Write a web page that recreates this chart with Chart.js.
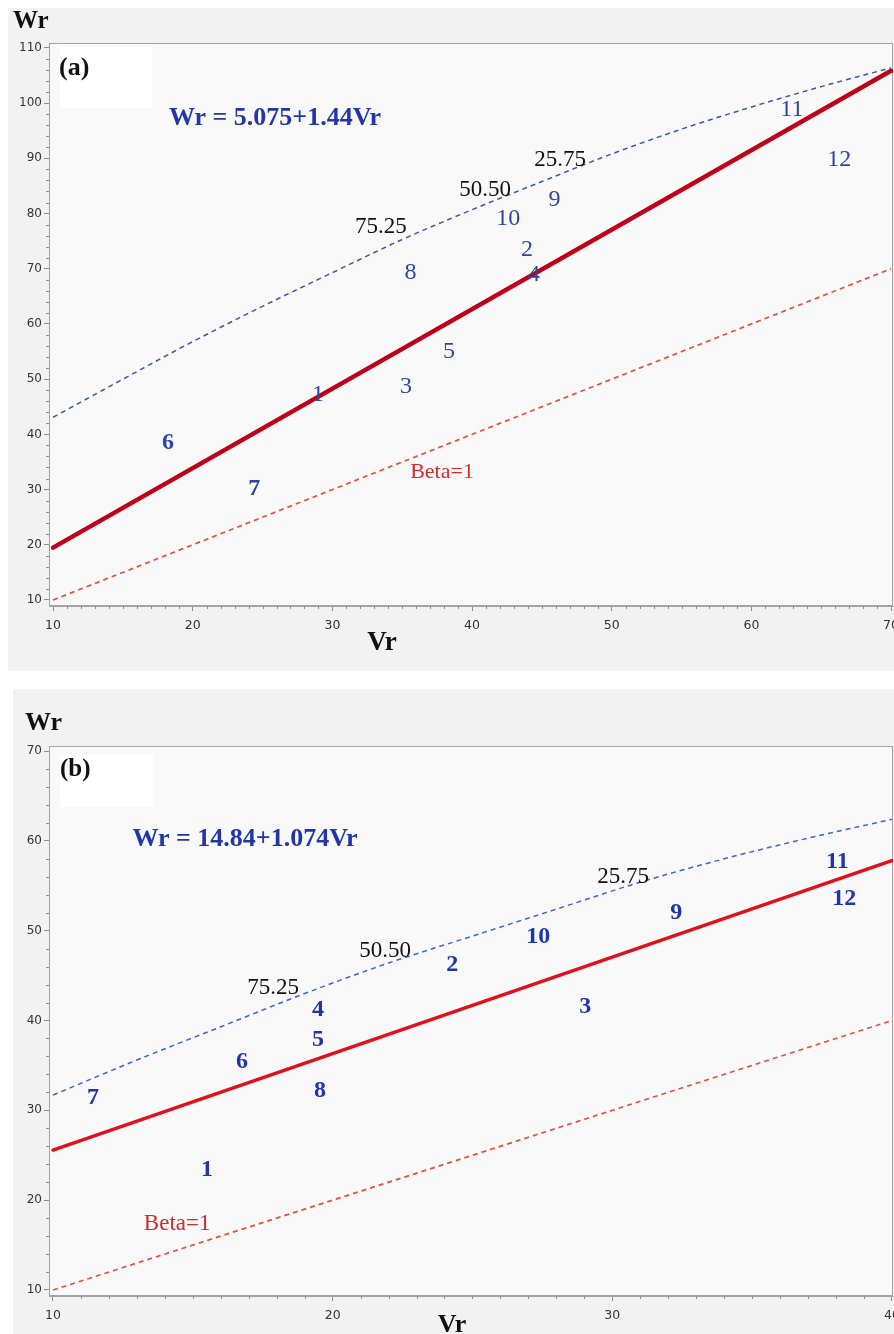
<!DOCTYPE html>
<html>
<head>
<meta charset="utf-8">
<script src="https://cdn.jsdelivr.net/npm/chart.js@4.4.0/dist/chart.umd.min.js"></script>
<style>
  html, body { margin: 0; padding: 0; background: #ffffff; overflow: hidden; width: 894px; height: 1334px; }
  .panel-bg { position: absolute; background: #f2f2f2; }
  canvas { position: absolute; left: 0; }
</style>
</head>
<body>
<div class="panel-bg" style="left:8px; top:8px; width:900px; height:663px;"></div>
<div class="panel-bg" style="left:13px; top:689px; width:900px; height:660px;"></div>
<canvas id="chartA" width="910" height="672" style="top:0px;"></canvas>
<canvas id="chartB" width="910" height="645" style="top:689px;"></canvas>
<script>
// ---------- Panel (a) ----------
const aIds  = ['1', '2', '3', '4', '5', '6', '7', '8', '9', '10', '11', '12'];
const aVr   = [28.97, 43.93, 35.27, 44.43, 38.35, 18.23, 24.4, 35.6, 45.9, 42.6, 62.9, 66.3];
const aWr   = [47.1, 73.4, 48.6, 68.9, 54.9, 38.4, 30.1, 69.2, 82.5, 79.0, 98.8, 89.7];
const aFitIntercept = 5.075;
const aFitSlope = 1.44;
const aFitRange = [10, 70];
const aBetaVr = [10, 70];
const aBetaWr = [10, 70];
const aCurveVr = [10, 15, 20, 25, 30, 35, 40, 45, 50, 55, 60, 65, 70];
const aCurveWr = [43.1, 50.0, 56.8, 63.2, 69.3, 75.3, 80.7, 85.8, 90.8, 95.3, 99.3, 103.0, 106.4];
const aXTicks = [10, 20, 30, 40, 50, 60, 70];
const aYTicks = [10, 20, 30, 40, 50, 60, 70, 80, 90, 100, 110];

// ---------- Panel (b) ----------
const bIds  = ['1', '2', '3', '4', '5', '6', '7', '8', '9', '10', '11', '12'];
const bVr   = [15.51, 24.28, 29.03, 19.48, 19.48, 16.76, 11.43, 19.55, 32.29, 27.35, 38.05, 38.3];
const bWr   = [23.4, 46.2, 41.5, 41.2, 37.8, 35.4, 31.4, 32.2, 52.0, 49.3, 57.7, 53.5];
const bFitIntercept = 14.84;
const bFitSlope = 1.074;
const bFitRange = [10, 40];
const bBetaVr = [10, 40];
const bBetaWr = [10, 40];
const bCurveVr = [10, 13, 16, 19, 22, 25, 28, 31, 34, 37, 40];
const bCurveWr = [31.7, 35.6, 39.3, 43.0, 46.4, 49.4, 52.4, 55.4, 58.0, 60.3, 62.4];
const bXTicks = [10, 20, 30, 40];
const bYTicks = [10, 20, 30, 40, 50, 60, 70];

const SERIF = '"Liberation Serif", "Times New Roman", serif';
const SANS = '"DejaVu Sans", sans-serif';

function pairs(xs, ys) { return xs.map((x, i) => ({ x: x, y: ys[i] })); }

// Plot background, frame, minor tick marks, point numbers and text notes
const panelDecor = {
  id: 'panelDecor',
  beforeDraw(chart, args, o) {
    const { ctx, chartArea: a } = chart;
    ctx.save();
    ctx.fillStyle = o.plotBg;
    ctx.fillRect(a.left, a.top, a.right - a.left, a.bottom - a.top);
    ctx.fillStyle = '#ffffff';
    ctx.fillRect(a.left + o.tagBox.dx, a.top + o.tagBox.dy, o.tagBox.w, o.tagBox.h);
    ctx.restore();
  },
  beforeDatasetsDraw(chart, args, o) {
    const { ctx, chartArea: a, scales } = chart;
    ctx.save();
    ctx.strokeStyle = '#a3a3a3';
    ctx.lineWidth = 1;
    ctx.strokeRect(Math.round(a.left) + 0.5, Math.round(a.top) + 0.5,
                   Math.round(a.right - a.left) - 1, Math.round(a.bottom - a.top) - 1);
    ctx.strokeStyle = '#8c8c8c';
    ctx.beginPath();
    const xs = scales.x, ys = scales.y;
    for (let v = Math.ceil(xs.min); v <= xs.max + 1e-9; v += o.xMinor) {
      if (Math.abs(v % 10) < 1e-9) continue;
      const px = Math.round(xs.getPixelForValue(v)) + 0.5;
      ctx.moveTo(px, a.bottom); ctx.lineTo(px, a.bottom + 3);
    }
    for (let v = Math.ceil(ys.min / o.yMinor) * o.yMinor; v <= ys.max + 1e-9; v += o.yMinor) {
      if (Math.abs(v % 10) < 1e-9) continue;
      const py = Math.round(ys.getPixelForValue(v)) + 0.5;
      ctx.moveTo(a.left - 3, py); ctx.lineTo(a.left, py);
    }
    ctx.stroke();
    ctx.restore();
  },
  afterDatasetsDraw(chart, args, o) {
    const { ctx, scales } = chart;
    ctx.save();
    ctx.textBaseline = 'middle';
    // numbered observations
    chart.data.datasets.forEach((ds, i) => {
      if (!ds.ids) return;
      const meta = chart.getDatasetMeta(i);
      ctx.fillStyle = o.idColor;
      ctx.textAlign = 'center';
      meta.data.forEach((el, j) => {
        const bold = o.idBold === true || (Array.isArray(o.idBold) && o.idBold.includes(ds.ids[j]));
        ctx.font = (bold ? 'bold ' : '') + o.idSize + 'px ' + SERIF;
        ctx.fillText(ds.ids[j], el.x, el.y);
      });
    });
    // notes
    o.notes.forEach(n => {
      const x = n.vr !== undefined ? scales.x.getPixelForValue(n.vr) : n.px;
      const y = n.wr !== undefined ? scales.y.getPixelForValue(n.wr) : n.py;
      ctx.font = n.font;
      ctx.fillStyle = n.color;
      ctx.textAlign = n.align || 'center';
      ctx.fillText(n.text, x, y);
    });
    ctx.restore();
  }
};

function buildPanel(canvasId, s) {
  const fitPts = s.fitRange.map(v => ({ x: v, y: s.fitIntercept + s.fitSlope * v }));
  return new Chart(document.getElementById(canvasId), {
    type: 'scatter',
    data: {
      datasets: [
        { type: 'line', data: pairs(s.betaVr, s.betaWr), borderColor: s.betaColor, borderWidth: 1.7,
          borderDash: [5, 4], pointRadius: 0, fill: false },
        { type: 'line', data: pairs(s.curveVr, s.curveWr), borderColor: s.curveColor, borderWidth: 1.5,
          borderDash: [5, 4], pointRadius: 0, fill: false, cubicInterpolationMode: 'monotone' },
        { type: 'line', data: fitPts, borderColor: s.fitColor, borderWidth: s.fitWidth,
          pointRadius: 0, fill: false, borderCapStyle: 'round' },
        { type: 'scatter', data: pairs(s.vr, s.wr), ids: s.ids, pointRadius: 0, pointHoverRadius: 0 }
      ]
    },
    options: {
      responsive: false,
      animation: false,
      events: [],
      layout: { padding: { left: 0, top: s.padTop, right: s.padRight, bottom: 0 } },
      plugins: {
        legend: { display: false },
        tooltip: { enabled: false },
        panelDecor: s.decor
      },
      scales: {
        x: {
          type: 'linear', min: s.xMin, max: s.xMax,
          afterBuildTicks: sc => { sc.ticks = s.xTicks.map(v => ({ value: v })); },
          afterFit: sc => { sc.height = s.xAxisH; },
          grid: { drawOnChartArea: false, drawTicks: true, tickLength: 5, color: '#8c8c8c' },
          border: { display: true, color: '#a3a3a3' },
          ticks: { font: { family: SANS, size: 12.5 }, color: '#333333', padding: 7,
                   maxRotation: 0, autoSkip: false, callback: v => String(v) }
        },
        y: {
          type: 'linear', min: s.yMin, max: s.yMax,
          afterBuildTicks: sc => { sc.ticks = s.yTicks.map(v => ({ value: v })); },
          afterFit: sc => { sc.width = 49; },
          grid: { drawOnChartArea: false, drawTicks: true, tickLength: 5, color: '#8c8c8c' },
          border: { display: true, color: '#a3a3a3' },
          ticks: { font: { family: SANS, size: 12 }, color: '#333333', padding: 2,
                   autoSkip: false, callback: v => String(v) }
        }
      }
    },
    plugins: [panelDecor]
  });
}

buildPanel('chartA', {
  ids: aIds, vr: aVr, wr: aWr,
  fitIntercept: aFitIntercept, fitSlope: aFitSlope, fitRange: aFitRange,
  betaVr: aBetaVr, betaWr: aBetaWr, curveVr: aCurveVr, curveWr: aCurveWr,
  xTicks: aXTicks, yTicks: aYTicks,
  xMin: 9.71, xMax: 70.14, yMin: 8.91, yMax: 110.9,
  padTop: 43, padRight: 17, xAxisH: 66,
  fitColor: '#c00018', fitWidth: 4.4, curveColor: '#3a5aa6', betaColor: '#e8503c',
  decor: {
    plotBg: '#f9f9f9', xMinor: 1, yMinor: 2,
    tagBox: { dx: 11, dy: 4, w: 92, h: 61 },
    idColor: '#2c48a6', idSize: 24, idBold: ['6', '7'],
    notes: [
      { text: '(a)', px: 59, py: 68, font: 'bold 26px ' + SERIF, color: '#111111', align: 'left' },
      { text: 'Wr = 5.075+1.44Vr', px: 275, py: 118, font: 'bold 26px ' + SERIF, color: '#2236a8' },
      { text: '75.25', vr: 33.48, wr: 77.57, font: '23px ' + SERIF, color: '#111111' },
      { text: '50.50', vr: 40.93, wr: 84.28, font: '23px ' + SERIF, color: '#111111' },
      { text: '25.75', vr: 46.30, wr: 89.71, font: '23px ' + SERIF, color: '#111111' },
      { text: 'Beta=1', vr: 37.85, wr: 33.19, font: '22px ' + SERIF, color: '#d32a2a' },
      { text: 'Wr', px: 13, py: 22, font: 'bold 25px ' + SERIF, color: '#111111', align: 'left' },
      { text: 'Vr', px: 382, py: 643, font: 'bold 27px ' + SERIF, color: '#111111' }
    ]
  }
});

buildPanel('chartB', {
  ids: bIds, vr: bVr, wr: bWr,
  fitIntercept: bFitIntercept, fitSlope: bFitSlope, fitRange: bFitRange,
  betaVr: bBetaVr, betaWr: bBetaWr, curveVr: bCurveVr, curveWr: bCurveWr,
  xTicks: bXTicks, yTicks: bYTicks,
  xMin: 9.857, xMax: 40.04, yMin: 9.33, yMax: 70.56,
  padTop: 57, padRight: 17, xAxisH: 38,
  fitColor: '#e0101c', fitWidth: 3.4, curveColor: '#3b66c4', betaColor: '#e8503c',
  decor: {
    plotBg: '#f9f9f9', xMinor: 1, yMinor: 2,
    tagBox: { dx: 11, dy: 9, w: 93, h: 52 },
    idColor: '#1f35b0', idSize: 24, idBold: true,
    notes: [
      { text: '(b)', px: 60, py: 81, font: 'bold 25px ' + SERIF, color: '#111111', align: 'left' },
      { text: 'Wr = 14.84+1.074Vr', px: 245, py: 150, font: 'bold 26px ' + SERIF, color: '#2236a8' },
      { text: '75.25', vr: 17.87, wr: 43.63, font: '23px ' + SERIF, color: '#111111' },
      { text: '50.50', vr: 21.88, wr: 47.75, font: '23px ' + SERIF, color: '#111111' },
      { text: '25.75', vr: 30.39, wr: 55.99, font: '23px ' + SERIF, color: '#111111' },
      { text: 'Beta=1', vr: 14.44, wr: 17.35, font: '23px ' + SERIF, color: '#d32a2a' },
      { text: 'Wr', px: 25, py: 34, font: 'bold 26px ' + SERIF, color: '#111111', align: 'left' },
      { text: 'Vr', px: 452, py: 636, font: 'bold 26px ' + SERIF, color: '#111111' }
    ]
  }
});
</script>
</body>
</html>
